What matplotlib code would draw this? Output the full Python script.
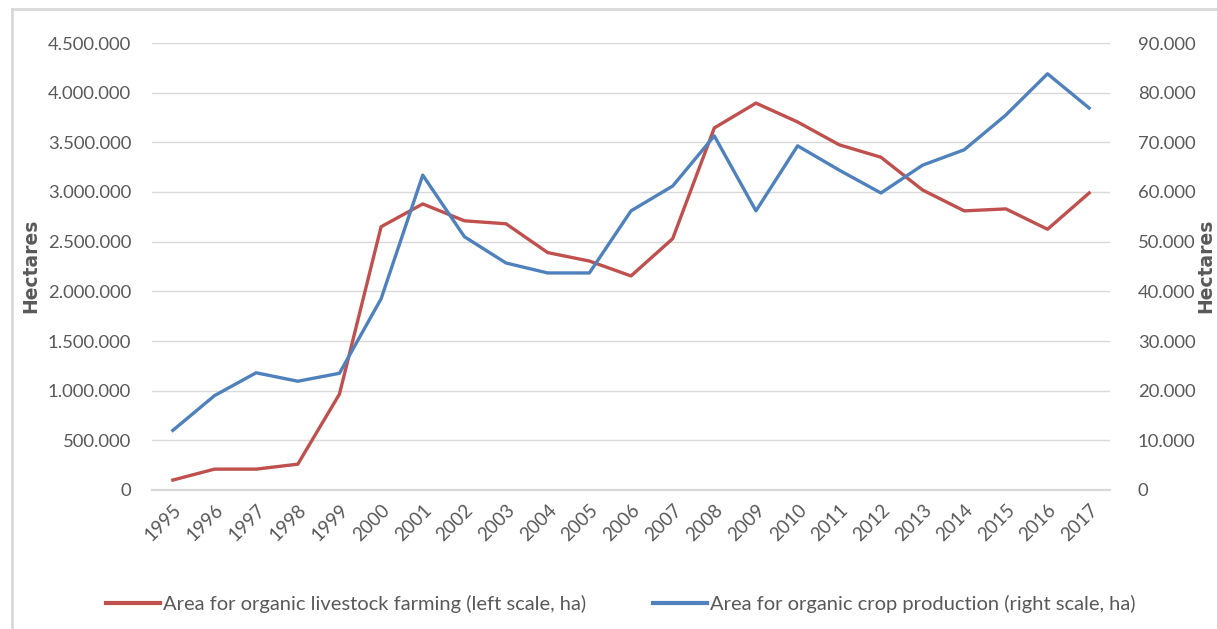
import matplotlib.pyplot as plt
from matplotlib.lines import Line2D
from matplotlib.ticker import FuncFormatter, MultipleLocator

plt.rcParams["font.family"] = ["Lato", "DejaVu Sans"]

YEARS = [str(y) for y in range(1995, 2018)]

# area for organic livestock farming, ha (left scale)
LIVESTOCK = [
    100000, 210000, 210000, 260000, 965000, 2650000, 2880000, 2710000,
    2680000, 2390000, 2305000, 2155000, 2530000, 3645000, 3895000, 3705000,
    3475000, 3350000, 3020000, 2810000, 2830000, 2625000, 2990000,
]

# area for organic crop production, ha (right scale)
CROPS = [
    12000, 19000, 23600, 21900, 23500, 38500, 63400, 51000,
    45700, 43700, 43700, 56200, 61200, 71300, 56200, 69300,
    64400, 59800, 65400, 68500, 75500, 83800, 76900,
]

RED = "#C0504D"
BLUE = "#4F81BD"
GRID = "#D9D9D9"
TEXT = "#595959"
W, H = 1217, 629


def dotted(value, _pos=None) -> str:
    return f"{int(round(value)):,}".replace(",", ".")


fig = plt.figure(figsize=(W / 100, H / 100), dpi=100)
ax = fig.add_axes([152 / W, 1 - 490 / H, 958 / W, 447 / H])
ax2 = ax.twinx()

x = list(range(len(YEARS)))
ax.plot(x, LIVESTOCK, color=RED, lw=2.4, solid_joinstyle="round", zorder=3)
ax2.plot(x, CROPS, color=BLUE, lw=2.4, solid_joinstyle="round", zorder=3)

ax.set_xlim(-0.5, len(YEARS) - 0.5)
ax.set_ylim(0, 4500000)
ax2.set_ylim(0, 90000)
ax.yaxis.set_major_locator(MultipleLocator(500000))
ax2.yaxis.set_major_locator(MultipleLocator(10000))
ax.yaxis.set_major_formatter(FuncFormatter(dotted))
ax2.yaxis.set_major_formatter(FuncFormatter(dotted))

ax.grid(axis="y", color=GRID, lw=1)
ax.set_axisbelow(True)
for a in (ax, ax2):
    for side in ("top", "left", "right"):
        a.spines[side].set_visible(False)
    a.spines["bottom"].set_color(GRID)
    a.spines["bottom"].set_linewidth(1.5)
    a.tick_params(length=0, colors=TEXT, labelsize=13.3)

ax.tick_params(axis="y", pad=15)
ax2.tick_params(axis="y", pad=20)
ax.set_xticks(x)
ax.set_xticklabels(YEARS, rotation=45, ha="right", rotation_mode="anchor", fontsize=13.5)
ax.tick_params(axis="x", pad=8)

for xpix in (31, 1206):
    fig.text(xpix / W, 1 - 266 / H, "Hectares", rotation=90, ha="center", va="center",
             fontsize=13.5, fontweight="bold", color=TEXT, family=["DejaVu Sans"])

handles = [
    Line2D([], [], color=RED, lw=3),
    Line2D([], [], color=BLUE, lw=3),
]
labels = [
    "Area for organic livestock farming (left scale, ha)",
    "Area for organic crop production (right scale, ha)",
]
leg = fig.legend(handles, labels, loc="center", bbox_to_anchor=(621 / W, 1 - 604 / H),
                 ncol=2, frameon=False, fontsize=14.5, handlelength=2.7, handletextpad=0.15,
                 columnspacing=3.3)
for t in leg.get_texts():
    t.set_color(TEXT)

# light frame around the chart
frame_color = "#D9D9D9"
fig.add_artist(Line2D([12 / W, 12 / W], [0, 1 - 9 / H], color=frame_color, lw=2,
                      transform=fig.transFigure))
fig.add_artist(Line2D([12 / W, 1], [1 - 9 / H, 1 - 9 / H], color=frame_color, lw=2,
                      transform=fig.transFigure))

fig.savefig("out.png", dpi=100)
